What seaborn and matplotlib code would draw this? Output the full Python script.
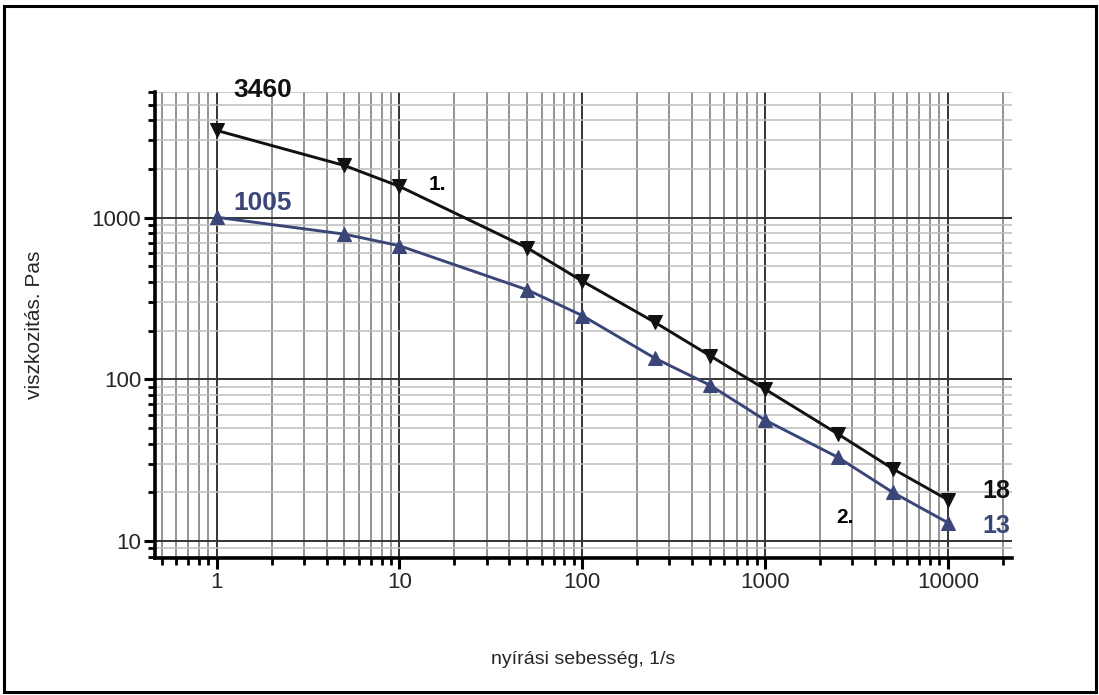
import matplotlib
matplotlib.use("Agg")
import matplotlib.pyplot as plt
import matplotlib.ticker as mticker
from matplotlib.patches import Rectangle
import seaborn as sns
import pandas as pd
import numpy as np

# data
shear_rate = [1, 5, 10, 50, 100, 250, 500, 1000, 2500, 5000, 10000]
visc_1 = [3460, 2100, 1560, 650, 405, 225, 140, 87, 46, 28, 18]
visc_2 = [1005, 790, 670, 358, 248, 135, 92, 56, 33, 20, 13]
x_ticks = [1, 10, 100, 1000, 10000]
y_ticks = [10, 100, 1000]

sns.set_theme(style="white")
plt.rcParams['font.family'] = ['Liberation Sans', 'DejaVu Sans']

c1 = "#111111"
c2 = "#3b4678"

fig = plt.figure(figsize=(10.99, 6.95), dpi=100)
ax = fig.add_axes([0.141, 0.197, 0.780, 0.671])

df = pd.DataFrame({
    "x": shear_rate * 2,
    "y": visc_1 + visc_2,
    "s": ["1."] * len(shear_rate) + ["2."] * len(shear_rate),
})
sns.lineplot(data=df, x="x", y="y", hue="s", style="s",
             markers={"1.": "v", "2.": "^"}, dashes=False,
             palette={"1.": c1, "2.": c2}, markersize=10, linewidth=2.1,
             legend=False, ax=ax, zorder=5)
for l, c in zip(ax.lines, [c1, c2]):
    l.set_markeredgecolor(c)
    l.set_markerfacecolor(c)

ax.set_xscale("log")
ax.set_yscale("log")
ax.set_xlim(0.46, 22500)
ax.set_ylim(7.85, 6000)

ax.xaxis.set_major_locator(mticker.FixedLocator(x_ticks))
ax.xaxis.set_major_formatter(mticker.FixedFormatter([str(v) for v in x_ticks]))
ax.yaxis.set_major_locator(mticker.FixedLocator(y_ticks))
ax.yaxis.set_major_formatter(mticker.FixedFormatter([str(v) for v in y_ticks]))
ax.xaxis.set_minor_locator(mticker.LogLocator(base=10, subs=np.arange(2, 10), numticks=20))
ax.yaxis.set_minor_locator(mticker.LogLocator(base=10, subs=np.arange(2, 10), numticks=20))
ax.xaxis.set_minor_formatter(mticker.NullFormatter())
ax.yaxis.set_minor_formatter(mticker.NullFormatter())

ax.grid(which="major", axis="both", color="#333333", linewidth=1.4)
ax.grid(which="minor", axis="x", color="#8a8a8a", linewidth=1.3)
ax.grid(which="minor", axis="y", color="#bdbdbd", linewidth=1.1)
ax.set_axisbelow(True)

for s in ["top", "right"]:
    ax.spines[s].set_visible(False)
for s in ["left", "bottom"]:
    ax.spines[s].set_linewidth(2.6)
    ax.spines[s].set_color("black")

ax.tick_params(which="major", direction="out", length=8, width=2.2, color="black",
               labelsize=16, pad=2, left=True, bottom=True)
ax.tick_params(which="minor", direction="out", length=5, width=2.0, color="black",
               left=True, bottom=True)

ax.set_xlabel("nyírási sebesség, 1/s", fontsize=14)
ax.set_ylabel("viszkozitás. Pas", fontsize=15)
ax.xaxis.set_label_coords(0.5, -0.200)
ax.yaxis.set_label_coords(-0.129, 0.5)

ax.annotate("3460", (shear_rate[0], visc_1[0]), xytext=(46, 40), textcoords="offset pixels",
            ha="center", va="center", fontsize=19, fontweight="bold", color=c1, annotation_clip=False)
ax.annotate("1005", (shear_rate[0], visc_2[0]), xytext=(46, 14), textcoords="offset pixels",
            ha="center", va="center", fontsize=19, fontweight="bold", color=c2, annotation_clip=False)
ax.annotate("18", (shear_rate[-1], visc_1[-1]), xytext=(35, 9), textcoords="offset pixels",
            ha="left", va="center", fontsize=18, fontweight="bold", color=c1, annotation_clip=False)
ax.annotate("13", (shear_rate[-1], visc_2[-1]), xytext=(35, -3), textcoords="offset pixels",
            ha="left", va="center", fontsize=18, fontweight="bold", color=c2, annotation_clip=False)
ax.text(16.1, 1600, "1.", fontsize=15, fontweight="bold", ha="center", va="center", color="black")
ax.text(2735, 13.9, "2.", fontsize=15, fontweight="bold", ha="center", va="center", color="black")

fig.patches.append(Rectangle((0.0036, 0.0043), 0.9934, 0.9871, transform=fig.transFigure,
                             fill=False, edgecolor="black", linewidth=2.2, zorder=10))

fig.savefig("out.png", dpi=100)
